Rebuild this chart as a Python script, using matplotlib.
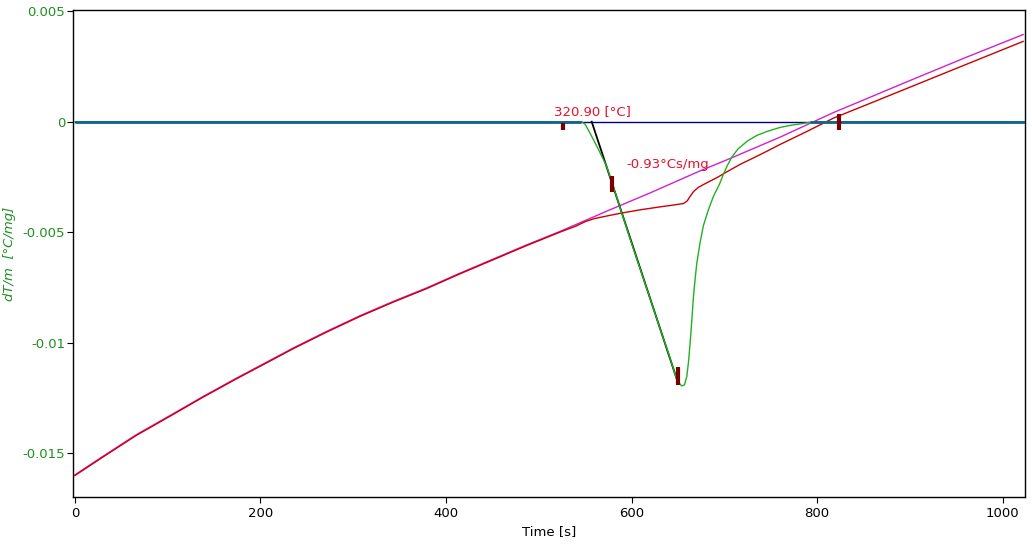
import matplotlib
matplotlib.use("Agg")
import matplotlib.pyplot as plt

# ---- data ----
base_t = [0, 30, 66, 102, 138, 174, 210, 235, 271, 307, 343, 379, 415, 451, 487, 523, 545, 573, 620,
          674, 703, 760, 818, 900, 960, 1022]
base_y = [-0.01597, -0.01514, -0.01416, -0.01330, -0.01243, -0.01160, -0.01080, -0.01024, -0.00949,
          -0.00878, -0.00813, -0.00752, -0.00685, -0.00621, -0.00557, -0.00496, -0.00456, -0.00405,
          -0.00322, -0.00222, -0.00172, -0.00070, 0.00042, 0.00186, 0.00290, 0.00394]

sample_t = [0, 30, 66, 102, 138, 174, 210, 235, 271, 307, 343, 379, 415, 451, 487, 523, 540, 550, 560,
            575, 588, 610, 631, 645, 656, 660, 663, 667, 672, 678, 692, 703, 717, 740, 760, 790, 818, 860,
            900, 960, 1022]
sample_y = [-0.01600, -0.01517, -0.01419, -0.01333, -0.01246, -0.01163, -0.01083, -0.01027, -0.00952,
            -0.00881, -0.00816, -0.00755, -0.00688, -0.00624, -0.00560, -0.00499, -0.00472, -0.00452,
            -0.00438, -0.00425, -0.00414, -0.00398, -0.00385, -0.00377, -0.00370, -0.00358, -0.00338,
            -0.00315, -0.00297, -0.00283, -0.00253, -0.00226, -0.00193, -0.00146, -0.00103, -0.00042,
            0.00017, 0.00088, 0.00156, 0.00258, 0.00363]

dtm_t = [0, 546, 550, 555, 560, 566, 573, 580, 600, 620, 631, 640, 648.7, 651, 654, 657, 659.5, 661.5,
         663.1, 664.9, 666.7, 668.5, 670.3, 673.9, 677.4, 682.8, 688.2, 695, 699, 703, 708, 715, 725, 735,
         746, 760, 772, 782, 792, 800, 1022]
dtm_y = [0, 0, -0.00012, -0.0005, -0.0009, -0.0014, -0.0020, -0.0029, -0.0055, -0.0080, -0.0094, -0.0105,
         -0.01165, -0.0118, -0.01195, -0.0119, -0.01152, -0.0108, -0.0100, -0.0090, -0.0079, -0.0071,
         -0.0064, -0.00545, -0.00470, -0.00398, -0.00338, -0.0028, -0.00237, -0.0020, -0.0016, -0.00122,
         -0.00087, -0.00062, -0.00044, -0.00026, -0.00016, -0.0001, -0.00003, 0, 0]

tangent_t = [557, 650]
tangent_y = [0.0, -0.0118]

zero_t = [0, 1024]
zero_seg1 = [0, 546]
zero_seg2 = [792, 1024]

marker_t = [525.6, 579, 650, 823.4]
marker_lo = [-0.00039, -0.0032, -0.0119, -0.00039]
marker_hi = [-0.00006, -0.00244, -0.0111, 0.00036]

onset_label = "320.90 [°C]"
onset_pos = (558, 0.00015)
area_label = "-0.93°Cs/mg"
area_pos = (594, -0.00195)

ytick_vals = [0.005, 0.0, -0.005, -0.01, -0.015]
ytick_labels = ["0.005", "0", "-0.005", "-0.01", "-0.015"]
xtick_vals = [0, 200, 400, 600, 800, 1000]
xtick_labels = ["0", "200", "400", "600", "800", "1000"]

# ---- figure ----
fig = plt.figure(figsize=(10.32, 5.44), dpi=100)
ax = fig.add_axes([73/1032, 47/544, (1025-73)/1032, (497-10)/544])

green_txt = "#1f8f1f"

ax.plot(zero_t, [0, 0], color="#000080", lw=1.0, zorder=2)

ax.plot(base_t, base_y, color="#d020d0", lw=1.0, zorder=4)
ax.plot(sample_t, sample_y, color="#cc0000", lw=1.0, zorder=5)
ax.plot(tangent_t, tangent_y, color="black", lw=1.3, zorder=5)
ax.plot(dtm_t, dtm_y, color="#22b022", lw=1.0, zorder=6)

ax.plot(zero_seg1, [0, 0], color="#136391", lw=2.0, zorder=7, solid_capstyle="butt")
ax.plot(zero_seg2, [0, 0], color="#136391", lw=2.0, zorder=7, solid_capstyle="butt")

ax.vlines(marker_t, marker_lo, marker_hi, color="#7a0000", lw=3, zorder=8)

ax.text(onset_pos[0], onset_pos[1], onset_label, color="#e8102a", fontsize=9.5,
        ha="center", va="bottom", zorder=9)
ax.text(area_pos[0], area_pos[1], area_label, color="#e8102a", fontsize=9.5,
        ha="left", va="center", zorder=9)

ax.set_xlim(-2, 1024)
ax.set_ylim(-0.01697, 0.00505)
ax.set_yticks(ytick_vals)
ax.set_yticklabels(ytick_labels)
ax.set_xticks(xtick_vals)
ax.set_xticklabels(xtick_labels)
ax.tick_params(axis="y", colors="black", labelcolor=green_txt, labelsize=9.5, length=4, pad=1.5,
               direction="out")
ax.tick_params(axis="x", colors="black", labelsize=9.5, length=4, pad=3, direction="out")

ax.set_xlabel("Time [s]", fontsize=9.5, labelpad=4)
ax.set_ylabel("dT/m  [°C/mg]", fontsize=9.5, color=green_txt, style="italic", labelpad=5)

for s in ax.spines.values():
    s.set_color("black")
    s.set_linewidth(1.0)

fig.savefig("out.png", dpi=100)
